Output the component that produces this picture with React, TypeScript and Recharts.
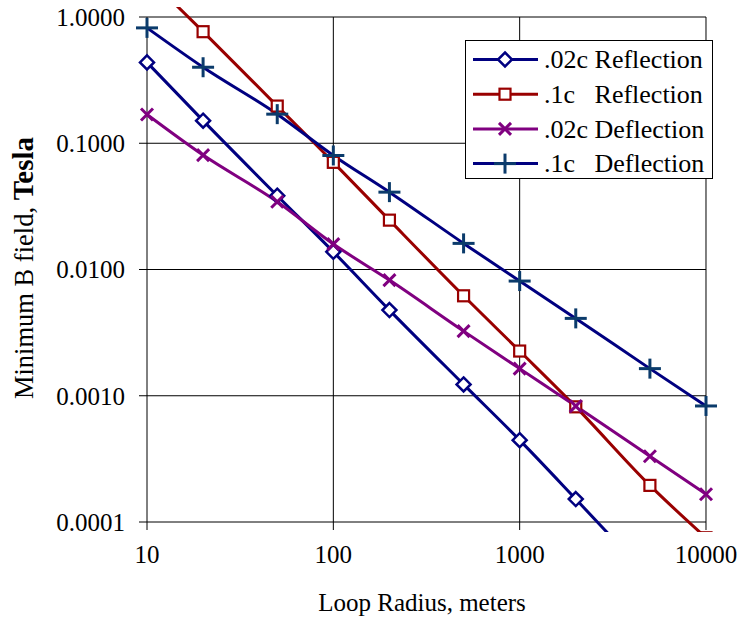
import React from 'react';
import { LineChart, Line, XAxis, YAxis, ReferenceLine, Legend } from 'recharts';

// ---------- data ----------
const radii = [10, 20, 50, 100, 200, 500, 1000, 2000, 5000, 10000];
const reflection02c = [0.437, 0.151, 0.0384, 0.0138, 0.00477, 0.00123, 0.000445, 0.000152, 0.000036, 0.000012];
const reflection1c = [2.1, 0.765, 0.197, 0.0706, 0.0246, 0.00619, 0.00226, 0.000817, 0.000195, 0.000075];
const deflection02c = [0.169, 0.0806, 0.0344, 0.0159, 0.00824, 0.00325, 0.00164, 0.000828, 0.000332, 0.000166];
const deflection1c = [0.82, 0.4, 0.17, 0.08, 0.041, 0.0161, 0.0081, 0.0041, 0.00164, 0.00083];

const xTicks = [10, 100, 1000, 10000];
const xTickLabels = ['10', '100', '1000', '10000'];
const yTicks = [0.0001, 0.001, 0.01, 0.1, 1];
const yTickLabels = ['0.0001', '0.0010', '0.0100', '0.1000', '1.0000'];

const seriesNames = ['.02c Reflection', '.1c   Reflection', '.02c Deflection', '.1c   Deflection'];
const seriesKeys = ['r02', 'r1', 'd02', 'd1'];

const data = radii.map((r, i) => ({
  r,
  r02: reflection02c[i],
  r1: reflection1c[i],
  d02: deflection02c[i],
  d1: deflection1c[i],
}));

// ---------- styling ----------
const FONT = '"Liberation Serif", "Times New Roman", serif';
const FS = 25;
const NAVY = '#000080';
const RED = '#990000';
const PURPLE = '#800080';
const PLUS = '#0b3b6b';

// plot region extends slightly beyond the axes (clip region like the original)
const PX_DEC_Y = 126.25;
const PX_DEC_X = 186.33;
const yDomain = [1e-4 * Math.pow(10, -10 / PX_DEC_Y), Math.pow(10, 10 / PX_DEC_Y)];
const xDomain = [10 * Math.pow(10, -12 / PX_DEC_X), 10000 * Math.pow(10, 12 / PX_DEC_X)];
const xMin = 10, xMax = 10000, yMin = 0.0001, yMax = 1;
const xTickEnd = xMin * Math.pow(10, -8 / PX_DEC_X);
const yTickEnd = yMin * Math.pow(10, -8 / PX_DEC_Y);

const Diamond = ({ cx, cy, color }: any) => (
  <path d={`M${cx},${cy - 7} L${cx + 7},${cy} L${cx},${cy + 7} L${cx - 7},${cy} Z`} fill="#fff" stroke={color} strokeWidth={2.5} />
);
const Square = ({ cx, cy, color }: any) => (
  <rect x={cx - 5.5} y={cy - 5.5} width={11} height={11} fill="#fff" stroke={color} strokeWidth={2.2} />
);
const Cross = ({ cx, cy, color }: any) => (
  <g stroke={color} strokeWidth={3}>
    <line x1={cx - 6} y1={cy - 6} x2={cx + 6} y2={cy + 6} />
    <line x1={cx - 6} y1={cy + 6} x2={cx + 6} y2={cy - 6} />
  </g>
);
const Plus = ({ cx, cy, color }: any) => (
  <g stroke={color} strokeWidth={3}>
    <line x1={cx - 11} y1={cy} x2={cx + 11} y2={cy} />
    <line x1={cx} y1={cy - 10} x2={cx} y2={cy + 10} />
  </g>
);

const markers = [Diamond, Square, Cross, Plus];
const lineColors = [NAVY, RED, PURPLE, NAVY];
const markerColors = [NAVY, RED, PURPLE, PLUS];

const makeDot = (idx: number) => (props: any) => {
  const M = markers[idx];
  if (props.cx == null || props.cy == null || !isFinite(props.cx) || !isFinite(props.cy)) return <g key={props.index} />;
  return <M key={props.index} cx={props.cx} cy={props.cy} color={markerColors[idx]} />;
};

const renderLegend = () => (
  <svg width={249} height={140} style={{ display: 'block' }}>
    <rect x={0.5} y={0.5} width={247} height={138} fill="#fff" stroke="#000" strokeWidth={1} />
    {seriesNames.map((name, i) => {
      const y = 19.5 + i * 34.7;
      const M = markers[i];
      return (
        <g key={name}>
          <line x1={8} y1={y} x2={73} y2={y} stroke={lineColors[i]} strokeWidth={3} />
          <M cx={40} cy={y} color={markerColors[i]} />
          <text x={79} y={y + 8.7} fontFamily={FONT} fontSize={26} fill="#000" style={{ whiteSpace: 'pre' }} xmlSpace="preserve">
            {name}
          </text>
        </g>
      );
    })}
  </svg>
);

export default function App() {
  return (
    <div style={{ position: 'absolute', left: 0, top: 0, width: 741, height: 618, background: '#fff' }}>
      <LineChart
        width={741}
        height={618}
        data={data}
        margin={{ top: 7, right: 23, bottom: 0, left: 0 }}
        style={{ fontFamily: FONT }}
      >
        <XAxis
          dataKey="r"
          type="number"
          scale="log"
          domain={xDomain}
          allowDataOverflow
          ticks={xTicks}
          tickFormatter={(v: number) => xTickLabels[xTicks.indexOf(v)] ?? String(v)}
          axisLine={false}
          tickLine={false}
          tickSize={0}
          tickMargin={13}
          height={86}
          interval={0}
          tick={{ fill: '#000', fontSize: FS, fontFamily: FONT }}
          label={{
            content: () => (
              <text x={422} y={611} textAnchor="middle" fontFamily={FONT} fontSize={FS} fill="#000">
                Loop Radius, meters
              </text>
            ),
          }}
        />
        <YAxis
          type="number"
          scale="log"
          domain={yDomain}
          allowDataOverflow
          ticks={yTicks}
          tickFormatter={(v: number) => yTickLabels[yTicks.indexOf(v)] ?? String(v)}
          axisLine={false}
          tickLine={false}
          tickSize={0}
          tickMargin={10}
          width={135}
          interval={0}
          tick={{ fill: '#000', fontSize: FS, fontFamily: FONT }}
          label={{
            content: () => (
              <text
                x={33}
                y={268}
                transform="rotate(-90, 33, 268)"
                textAnchor="middle"
                fontFamily={FONT}
                fontSize={26.5}
                fill="#000"
              >
                Minimum B field, <tspan fontWeight="bold" fontSize={29}>Tesla</tspan>
              </text>
            ),
          }}
        />
        {/* horizontal grid lines + y tick marks */}
        {yTicks.map((t) => (
          <ReferenceLine key={`hg${t}`} segment={[{ x: xTickEnd, y: t }, { x: xMax, y: t }]} stroke="#000" strokeWidth={1} />
        ))}
        {/* vertical grid lines + x tick marks */}
        {xTicks.map((t) => (
          <ReferenceLine key={`vg${t}`} segment={[{ x: t, y: yTickEnd }, { x: t, y: yMax }]} stroke="#000" strokeWidth={1} />
        ))}
        {seriesKeys.map((k, i) => (
          <Line
            key={k}
            dataKey={k}
            name={seriesNames[i]}
            type="monotone"
            stroke={lineColors[i]}
            strokeWidth={3}
            dot={makeDot(i)}
            activeDot={false}
            isAnimationActive={false}
          />
        ))}
        <Legend
          content={renderLegend}
          layout="vertical"
          align="center"
          verticalAlign="middle"
          wrapperStyle={{ position: 'absolute', left: 465, top: 40, width: 249, height: 140 }}
        />
      </LineChart>
    </div>
  );
}
